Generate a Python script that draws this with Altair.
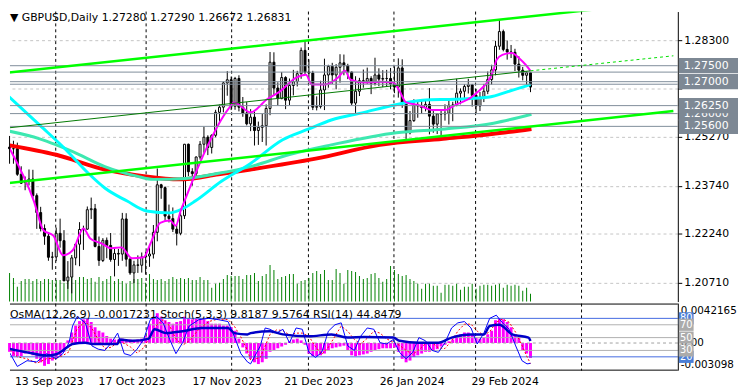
import altair as alt
import pandas as pd

FONT = "DejaVu Sans"

# ---------------- data ----------------
OPEN = [1.2495,1.2490,1.2490,1.2410,1.2385,1.2389,1.2395,1.2343,1.2290,1.2240,
        1.2216,1.2150,1.2151,1.2225,1.2202,1.2076,1.2088,1.2148,1.2191,1.2237,
        1.2238,1.2299,1.2302,1.2184,1.2140,1.2203,1.2187,1.2143,1.2162,1.2160,
        1.2270,1.2144,1.2101,1.2126,1.2125,1.2151,1.2154,1.2160,1.2228,1.2377,
        1.2368,1.2279,1.2271,1.2238,1.2225,1.2280,1.2504,1.2418,1.2412,1.2464,
        1.2504,1.2526,1.2494,1.2532,1.2604,1.2620,1.2696,1.2706,1.2623,1.2710,
        1.2620,1.2602,1.2568,1.2589,1.2547,1.2557,1.2562,1.2616,1.2761,1.2680,
        1.2647,1.2713,1.2642,1.2688,1.2700,1.2725,1.2798,1.2730,1.2727,1.2620,
        1.2622,1.2674,1.2721,1.2748,1.2721,1.2745,1.2759,1.2750,1.2730,1.2633,
        1.2670,1.2703,1.2701,1.2710,1.2695,1.2721,1.2708,1.2710,1.2710,1.2693,
        1.2683,1.2743,1.2631,1.2540,1.2578,1.2626,1.2624,1.2619,1.2629,1.2592,
        1.2567,1.2599,1.2599,1.2601,1.2626,1.2627,1.2664,1.2670,1.2685,1.2690,
        1.2657,1.2624,1.2652,1.2670,1.2707,1.2737,1.2811,1.2857,1.2801,1.2793,
        1.2792,1.2755,1.2736,1.2720,1.2728]
HIGH = [1.2530,1.2515,1.2509,1.2435,1.2403,1.2425,1.2424,1.2350,1.2308,1.2253,
        1.2228,1.2167,1.2243,1.2271,1.2235,1.2138,1.2157,1.2193,1.2260,1.2249,
        1.2309,1.2337,1.2317,1.2215,1.2210,1.2212,1.2226,1.2178,1.2176,1.2289,
        1.2288,1.2148,1.2139,1.2156,1.2165,1.2168,1.2189,1.2251,1.2428,1.2380,
        1.2372,1.2315,1.2306,1.2254,1.2289,1.2505,1.2506,1.2429,1.2466,1.2514,
        1.2559,1.2532,1.2535,1.2612,1.2628,1.2700,1.2733,1.2716,1.2715,1.2720,
        1.2652,1.2636,1.2614,1.2607,1.2575,1.2599,1.2629,1.2793,1.2792,1.2698,
        1.2730,1.2717,1.2710,1.2737,1.2734,1.2807,1.2827,1.2770,1.2734,1.2654,
        1.2703,1.2772,1.2753,1.2759,1.2755,1.2786,1.2785,1.2756,1.2732,1.2717,
        1.2712,1.2738,1.2744,1.2717,1.2775,1.2742,1.2736,1.2737,1.2743,1.2748,
        1.2773,1.2770,1.2635,1.2608,1.2645,1.2637,1.2645,1.2644,1.2680,1.2612,
        1.2601,1.2613,1.2629,1.2642,1.2637,1.2709,1.2679,1.2692,1.2709,1.2693,
        1.2677,1.2668,1.2693,1.2732,1.2753,1.2828,1.2893,1.2863,1.2829,1.2815,
        1.2803,1.2780,1.2746,1.2732,1.2729]
LOW = [1.2443,1.2443,1.2405,1.2380,1.2360,1.2375,1.2333,1.2239,1.2231,1.2189,
       1.2139,1.2111,1.2138,1.2180,1.2076,1.2051,1.2037,1.2125,1.2122,1.2173,
       1.2236,1.2270,1.2181,1.2123,1.2135,1.2147,1.2136,1.2090,1.2123,1.2139,
       1.2121,1.2095,1.2069,1.2101,1.2102,1.2096,1.2120,1.2146,1.2200,1.2333,
       1.2265,1.2259,1.2229,1.2187,1.2219,1.2270,1.2404,1.2374,1.2405,1.2456,
       1.2477,1.2470,1.2475,1.2526,1.2573,1.2604,1.2656,1.2611,1.2612,1.2607,
       1.2590,1.2563,1.2545,1.2500,1.2502,1.2511,1.2500,1.2595,1.2656,1.2625,
       1.2645,1.2614,1.2627,1.2657,1.2685,1.2709,1.2724,1.2700,1.2611,1.2610,
       1.2616,1.2611,1.2681,1.2693,1.2676,1.2697,1.2720,1.2708,1.2626,1.2597,
       1.2655,1.2681,1.2693,1.2661,1.2688,1.2686,1.2683,1.2684,1.2676,1.2664,
       1.2650,1.2618,1.2518,1.2535,1.2574,1.2587,1.2599,1.2607,1.2535,1.2540,
       1.2536,1.2533,1.2578,1.2566,1.2576,1.2623,1.2629,1.2648,1.2663,1.2622,
       1.2600,1.2608,1.2636,1.2661,1.2691,1.2720,1.2800,1.2795,1.2769,1.2774,
       1.2733,1.2713,1.2704,1.2684,1.26672]
CLOSE = [1.2490,1.2490,1.2410,1.2382,1.2389,1.2395,1.2343,1.2290,1.2240,1.2216,
         1.2150,1.2151,1.2225,1.2202,1.2076,1.2088,1.2148,1.2191,1.2237,1.2238,
         1.2299,1.2302,1.2184,1.2140,1.2203,1.2187,1.2143,1.2162,1.2160,1.2270,
         1.2144,1.2101,1.2126,1.2125,1.2151,1.2154,1.2160,1.2228,1.2377,1.2368,
         1.2279,1.2271,1.2238,1.2225,1.2280,1.2504,1.2418,1.2412,1.2464,1.2504,
         1.2526,1.2494,1.2532,1.2604,1.2620,1.2696,1.2706,1.2623,1.2710,1.2620,
         1.2602,1.2568,1.2589,1.2547,1.2557,1.2562,1.2616,1.2761,1.2680,1.2647,
         1.2713,1.2642,1.2688,1.2700,1.2725,1.2798,1.2730,1.2727,1.2620,1.2622,
         1.2674,1.2721,1.2748,1.2721,1.2745,1.2759,1.2750,1.2730,1.2633,1.2670,
         1.2703,1.2701,1.2710,1.2695,1.2721,1.2708,1.2710,1.2710,1.2693,1.2683,
         1.2743,1.2631,1.2540,1.2578,1.2626,1.2624,1.2619,1.2629,1.2592,1.2567,
         1.2599,1.2599,1.2601,1.2626,1.2627,1.2664,1.2670,1.2685,1.2690,1.2657,
         1.2624,1.2652,1.2670,1.2707,1.2737,1.2811,1.2857,1.2801,1.2793,1.2792,
         1.2755,1.2736,1.2720,1.2728,1.26831]
# tick volume, thousands
VOLUME_K = [116,96,60,84,92,92,84,92,84,92,
            92,88,88,88,76,88,100,88,100,100,
            92,96,80,100,84,92,104,84,92,84,
            72,84,92,92,96,76,112,92,88,92,
            84,92,100,92,96,92,96,88,88,100,
            88,88,56,72,76,92,108,104,104,104,
            92,108,108,116,84,104,112,148,128,92,
            100,104,112,112,72,84,88,96,116,124,
            112,128,88,88,132,116,72,128,124,120,
            104,92,96,112,116,96,80,92,144,128,
            112,104,108,92,84,72,52,72,72,64,
            64,36,68,68,64,72,48,60,60,72,
            52,64,68,68,64,68,72,56,68,64,
            68,64,44,56,32]
# OsMA(12,26,9), units of 1e-4
OSMA_E4 = [-10,-15,-15,-15,-12,-12,-14,-18,-22,-26,
           -24,-20,-17,-14,-10,3,12,20,25,27,
           28,24,18,14,12,8,5,4,4,5,
           4,4,3,4,5,8,22,30,34,30,
           26,24,22,24,25,30,28,27,28,28,
           27,25,22,22,22,20,20,18,14,5,
           -5,-12,-18,-22,-24,-22,-18,-10,-8,-6,
           -4,-2,2,4,5,3,-2,-12,-15,-15,
           -14,-12,-8,-6,-5,-4,-3,-8,-14,-15,
           -14,-13,-12,-10,-8,-7,-6,-6,-6,-5,
           -10,-18,-22,-20,-16,-14,-12,-10,-10,-9,
           -7,-4,-2,2,4,8,10,12,12,10,
           6,5,6,10,14,26,28,27,24,18,
           10,6,-8,-12,-17]

# moving averages read at sample bars (bar index, price)
MAG_I = [-0.5,6.25,8.75,11.25,13.75,16.25,19,20.75,23.75,26.25,28.75,31.5,34.5,36.25,38.75,41.25,42.75,44,45,
         50.25,56.25,57.75,62,66.25,69.5,73.75,76.25,77.75,81.25,84.5,86.25,87.75,91.25,95.25,98.75,100.25,
         102,105.25,108.75,112,114.5,118.75,120.25,124.5,125.25,126.75,129.25,131,132.75,134]
MAG_P = [1.2502,1.2326,1.2234,1.2218,1.2156,1.2172,1.2240,1.2209,1.2193,1.2178,1.2181,1.2147,1.2150,1.2193,
         1.2258,1.2265,1.2249,1.2295,1.2326,1.2481,1.2614,1.2635,1.2604,1.2645,1.2669,1.2713,1.2722,1.2691,
         1.2691,1.2713,1.2734,1.2706,1.2697,1.2700,1.2697,1.2672,1.2635,1.2626,1.2611,1.2611,1.2626,1.2651,
         1.2666,1.2737,1.2768,1.2784,1.2790,1.2774,1.2753,1.2734]
CYAN_I = [-0.5,7.75,14.5,20.25,24.5,30.25,35.25,41.25,44.5,47.75,54.5,62,70.25,77,82.75,91.25,98.75,
          106.25,114.5,119.5,123.5,128,131.75,134]
CYAN_P = [1.2657,1.2564,1.2487,1.2413,1.2367,1.2326,1.2295,1.2289,1.2302,1.2326,1.2388,1.2444,1.2518,
          1.2552,1.2580,1.2604,1.2626,1.2642,1.2645,1.2648,1.2652,1.2668,1.2682,1.2691]
AQUA_I = [-0.5,7.75,12,16.25,24.5,32.75,37,45.25,53.75,62,72,82.75,99.5,112,124.5,134.25]
AQUA_P = [1.2546,1.2521,1.2502,1.2481,1.2434,1.2404,1.2394,1.2397,1.2413,1.2434,1.2472,1.2502,1.2540,
          1.2552,1.2570,1.2598]
RED_I = [-0.5,12,24.5,34.5,43.75,53.75,62,78.75,95.25,111.5,124,134.25]
RED_P = [1.2502,1.2471,1.2425,1.2404,1.2394,1.2410,1.2425,1.2459,1.2502,1.2521,1.2536,1.2552]

# trend channel (bar index, price)
UP_I, UP_P = [-0.5, 159.5], [1.2728, 1.2938]
LO_I, LO_P = [-0.5, 170.75], [1.2382, 1.2608]
MID_I, MID_P = [-0.5, 134], [1.2555, 1.2734]
MIDX_I, MIDX_P = [134, 170.75], [1.2734, 1.2781]

LEVELS = [1.2750, 1.2730, 1.2700, 1.2692, 1.2625, 1.2600, 1.2560]
BOX_LEVELS = [1.2750, 1.2700, 1.2600, 1.2625, 1.2560]
PRICE_TICKS = [1.20710, 1.22240, 1.23740, 1.25270, 1.26790, 1.28300]

GRID_IDX = [11.3, 23.3, 35.2, 47.2, 59.1, 71.1, 83.0, 95.0, 106.9, 118.9, 130.8, 142.8, 154.7, 166.7]
SEP_IDX = [11.875, 35.125, 57.125, 76.875, 98.875, 119.875, 147.125]
DATE_IDX = [1.375, 22.875, 47.05, 70.625, 95.2, 118.8]
DATE_TXT = ["13 Sep 2023", "17 Oct 2023", "17 Nov 2023", "21 Dec 2023", "26 Jan 2024", "29 Feb 2024"]

# oscillators (bar index, value)
STO_I = [-0.5,2,4.5,7,9.5,12,13.7,15.3,16.2,17.4,19.5,21.2,22.8,24.5,26.2,27.8,29.5,31.2,32.8,34.5,36.2,
         37.8,39.5,41.2,42.8,44.5,46.2,48.7,51.2,53.7,56.2,57.8,59.5,61.2,62,64.5,65.75,67,68.7,70.3,72,
         73.7,75.3,77,78.7,80.3,82,83.7,85.3,87,88.7,90.3,92,93.7,95.3,97,98.7,100.3,102,103.7,105.3,107,
         108.7,110.3,112,113.7,115.3,117,118.7,120.3,122,123.5,125.2,126.8,128.5,130.2,131.8,133.1,134]
STO_V = [32,5,14,12,25,17,25,42,68,83,73,37,32,30,42,57,25,22,32,47,78,83,73,47,25,42,68,78,80,78,75,52,
         25,12,9,37,65,63,57,63,42,65,63,27,19,27,60,70,73,37,30,52,65,63,42,40,47,27,17,27,50,45,30,27,
         42,65,73,75,65,40,57,80,85,73,63,37,14,9,9.8]
SIG_V = [35,20,17,10,17,18,22,28,45,64,75,64,47,33,35,43,41,35,26,34,52,69,78,68,48,38,45,63,75,79,78,68,
         51,30,15,19,37,55,62,61,54,57,57,52,36,24,35,52,68,60,47,40,49,60,57,48,43,38,30,24,31,41,42,34,
         33,45,60,71,71,60,54,59,74,79,74,58,38,20,9.6]
RSI_I = [-0.5,4.5,9.5,12,13.7,15.3,16.2,19.5,21.2,27.8,28.3,31.7,35.7,37.3,40.2,44.5,49.5,56.2,57.8,61.2,
         62,67,70.3,77,82.8,87,91.2,98.7,100.3,105.3,110.3,113.7,118.7,122,123.5,126,129.3,133.5,134]
RSI_V = [33,27,22,24,30,37,40,42,40,40,47,45,48,63,57,60,65,65,57,55,57,60,55,52,55,50,51,50,45,42,42,50,
         55,55,68,70,55,50,44.8]
STOCH_LEVELS_BLUE = [80, 20]
STOCH_LEVELS_GREY = [70, 50, 30]
OSMA_LABEL_V = [0.0042165, 0.0, -0.003098]
OSMA_LABEL_T = ["0.0042165", "0.00", "-0.003098"]

MAIN_HEADER = "\u25BC GBPUSD,Daily  1.27280 1.27290 1.26672 1.26831"
IND_HEADER = "OsMA(12,26,9) -0.0017231 Stoch(5,3,3) 9.8187 9.5764 RSI(14) 44.8479"

# ---------------- layout ----------------
W, HM, HI = 677, 294, 68
XMIN, XMAX = 1.375, 170.625
PMIN, PMAX = 1.201114, 1.29196
VMAX = 1176
SMIN, SMAX = -1.54, 103.08
OMIN, OMAX = -0.003151, 0.0045

xs = alt.Scale(domain=[XMIN, XMAX], nice=False, zero=False)
ps = alt.Scale(domain=[PMIN, PMAX], nice=False, zero=False)
ss = alt.Scale(domain=[SMIN, SMAX], nice=False, zero=False)
oss = alt.Scale(domain=[OMIN, OMAX], nice=False, zero=False)

GRIDC = "#c4c4c4"


def xq(f="i"):
    return alt.X(f + ":Q", scale=xs, axis=None)


def pq(f="p"):
    return alt.Y(f + ":Q", scale=ps, axis=None)


bars = pd.DataFrame({"i": list(range(len(CLOSE))), "o": OPEN, "h": HIGH, "l": LOW, "c": CLOSE,
                     "v": VOLUME_K, "osma": [v * 1e-4 for v in OSMA_E4]})


def ldf(xv, yv):
    return pd.DataFrame({"i": xv, "p": yv})


def price_line(xv, yv, color, width, dash=None, interp="monotone"):
    kw = dict(clip=True, color=color, strokeWidth=width, interpolate=interp)
    if dash:
        kw["strokeDash"] = dash
    return alt.Chart(ldf(xv, yv)).mark_line(**kw).encode(x=xq(), y=pq())


# ---- main panel ----
sep = alt.Chart(pd.DataFrame({"s": SEP_IDX})).mark_rule(color="black", strokeDash=[3, 3], strokeWidth=1).encode(
    x=xq("s"))

vol = alt.Chart(bars).mark_bar(size=1, color="#008000", orient="vertical").encode(
    x=xq(), y=alt.Y("v:Q", scale=alt.Scale(domain=[0, VMAX], nice=False, zero=True), axis=None))

wick = alt.Chart(bars).mark_rule(color="black", strokeWidth=1).encode(
    x=alt.X("i:Q", scale=xs, axis=alt.Axis(orient="top", values=GRID_IDX, grid=True, gridColor=GRIDC,
                                              gridDash=[3, 3], labels=False, ticks=False, domain=False,
                                              title=None)),
    y=alt.Y("l:Q", scale=ps, axis=alt.Axis(orient="right", values=PRICE_TICKS, format=".5f", grid=True,
                                              gridColor=GRIDC, gridDash=[3, 3], domain=True, domainColor="black",
                                              ticks=True, tickColor="black", tickSize=4, labelFont=FONT,
                                              labelFontSize=11, labelColor="black", labelPadding=2,
                                              labelOverlap=False, labelFlush=False, title=None,
                                              labelExpr="(datum.value > 1.2675 && datum.value < 1.2683) ? '' : datum.label")),
    y2="h:Q")

body = alt.Chart(bars).mark_bar(size=2, stroke="black", strokeWidth=1, orient="vertical").encode(
    x=xq(), y=pq("o"), y2="c:Q",
    fill=alt.condition("datum.c > datum.o", alt.value("white"), alt.value("black")))

lv = alt.Chart(pd.DataFrame({"p": LEVELS})).mark_rule(color="#7f8c99", strokeWidth=1).encode(y=pq())

red = price_line(RED_I, RED_P, "#ff0000", 4)
aqua = price_line(AQUA_I, AQUA_P, "#3de8b0", 3)
cyan = price_line(CYAN_I, CYAN_P, "#00ffff", 3)
mag = price_line(MAG_I, MAG_P, "#ff00ff", 2)
t_up = price_line(UP_I, UP_P, "#00ff00", 2.5, interp="linear")
t_lo = price_line(LO_I, LO_P, "#00ff00", 2.5, interp="linear")
t_mid = price_line(MID_I, MID_P, "#007a00", 1, interp="linear")
t_midx = price_line(MIDX_I, MIDX_P, "#00e000", 1, dash=[3, 3], interp="linear")

HALF = 0.0024
boxes = []
for lvl in BOX_LEVELS:
    d = pd.DataFrame({"p": [lvl]})
    boxes.append(alt.Chart(d).transform_calculate(a="datum.p + %f" % HALF, b="datum.p - %f" % HALF)
                 .mark_rect(color="#7d8894").encode(x=alt.value(W + 1), x2=alt.value(W + 61),
                                                     y=pq("a"), y2="b:Q"))
    boxes.append(alt.Chart(d).mark_text(align="left", baseline="middle", color="white", font=FONT,
                                        fontSize=11).encode(x=alt.value(W + 6), y=pq(),
                                                            text=alt.Text("p:Q", format=".5f")))

head = alt.Chart(pd.DataFrame({"t": [MAIN_HEADER]})).mark_text(
    align="left", baseline="top", font=FONT, fontSize=11, color="black").encode(
    x=alt.value(0), y=alt.value(1), text="t:N")

main = alt.layer(sep, vol, wick, body, red, aqua, cyan, mag, lv, t_up, t_lo, t_mid, t_midx, *boxes, head
                 ).resolve_scale(y="independent").properties(width=W, height=HM)

# ---- indicator panel ----
sq = lambda f: alt.Y(f + ":Q", scale=ss, axis=None)
oq = lambda f: alt.Y(f + ":Q", scale=oss, axis=None)

sep2 = alt.Chart(pd.DataFrame({"s": SEP_IDX})).mark_rule(color="black", strokeDash=[3, 3], strokeWidth=1).encode(
    x=xq("s"))
lev_b = alt.Chart(pd.DataFrame({"v": STOCH_LEVELS_BLUE})).mark_rule(color="#4169e1", strokeWidth=1).encode(y=sq("v"))
lev_g = alt.Chart(pd.DataFrame({"v": STOCH_LEVELS_GREY})).mark_rule(color="#b0b0b0", strokeWidth=1).encode(y=sq("v"))
zero = alt.Chart(pd.DataFrame({"z": [0.0]})).mark_rule(color="#a0a0a0", strokeDash=[3, 3], strokeWidth=1).encode(
    y=oq("z"))

osma = alt.Chart(bars).mark_bar(size=3, color="#ff00ff", orient="vertical").encode(
    x=alt.X("i:Q", scale=xs, axis=alt.Axis(orient="bottom", values=GRID_IDX, grid=True, gridColor=GRIDC,
                                              gridDash=[3, 3], labels=False, ticks=False, domain=False,
                                              title=None)),
    y=oq("osma"), y2=alt.datum(0))

sig = alt.Chart(pd.DataFrame({"i": STO_I, "v": SIG_V})).mark_line(
    clip=True, color="#ff0000", strokeWidth=1, strokeDash=[2, 2]).encode(x=xq(), y=sq("v"))
sto = alt.Chart(pd.DataFrame({"i": STO_I, "v": STO_V})).mark_line(
    clip=True, color="#0000ff", strokeWidth=1).encode(x=xq(), y=sq("v"))
rsi = alt.Chart(pd.DataFrame({"i": RSI_I, "v": RSI_V})).mark_line(
    clip=True, color="#0000c8", strokeWidth=2.5, interpolate="monotone").encode(x=xq(), y=sq("v"))

b_top = alt.Chart(pd.DataFrame({"k": [0]})).mark_rule(color="black").encode(
    x=alt.value(0), x2=alt.value(W), y=alt.value(0.5))
b_bot = alt.Chart(pd.DataFrame({"k": [0]})).mark_rule(color="black").encode(
    x=alt.value(0), x2=alt.value(W), y=alt.value(HI - 0.5))
b_rgt = alt.Chart(pd.DataFrame({"k": [0]})).mark_rule(color="black").encode(
    x=alt.value(W + 0.5), y=alt.value(0), y2=alt.value(HI))

olab = []
for v, t, bl in zip(OSMA_LABEL_V, OSMA_LABEL_T, ["top", "middle", "bottom"]):
    olab.append(alt.Chart(pd.DataFrame({"v": [v], "t": [t]})).mark_text(
        align="left", baseline=bl, font=FONT, fontSize=10.5, color="black", limit=58, ellipsis="").encode(
        x=alt.value(W + 3), y=oq("v"), text="t:N"))

lboxes = []
for v in [80, 20, 70, 50, 30]:
    col = "#4c7fd6" if v in STOCH_LEVELS_BLUE else "#ababab"
    d = pd.DataFrame({"v": [v]})
    lboxes.append(alt.Chart(d).transform_calculate(a="datum.v + 9.5", b="datum.v - 9.5").mark_rect(
        color=col).encode(x=alt.value(W + 1), x2=alt.value(W + 16), y=sq("a"), y2="b:Q"))
    lboxes.append(alt.Chart(d).mark_text(align="center", baseline="middle", color="white", font=FONT,
                                         fontSize=10).encode(x=alt.value(W + 8.5), y=sq("v"), text="v:Q"))

ihead = alt.Chart(pd.DataFrame({"t": [IND_HEADER]})).mark_text(
    align="left", baseline="top", font=FONT, fontSize=11, color="black").encode(
    x=alt.value(0), y=alt.value(6), text="t:N")

dates = alt.Chart(pd.DataFrame({"i": DATE_IDX, "t": DATE_TXT})).mark_text(
    align="left", baseline="top", font=FONT, fontSize=11, color="black").encode(
    x=xq(), y=alt.value(HI + 6), text="t:N")

ind = alt.layer(sep2, osma, lev_b, lev_g, zero, sig, sto, rsi, b_top, b_bot, b_rgt, *olab, *lboxes, ihead, dates
                ).resolve_scale(y="independent").properties(width=W, height=HI)

chart = alt.vconcat(main, ind, spacing=0).properties(padding=0, background="white").configure_view(stroke=None)

chart.save("out.html", embed_options={"renderer": "svg", "actions": False})
